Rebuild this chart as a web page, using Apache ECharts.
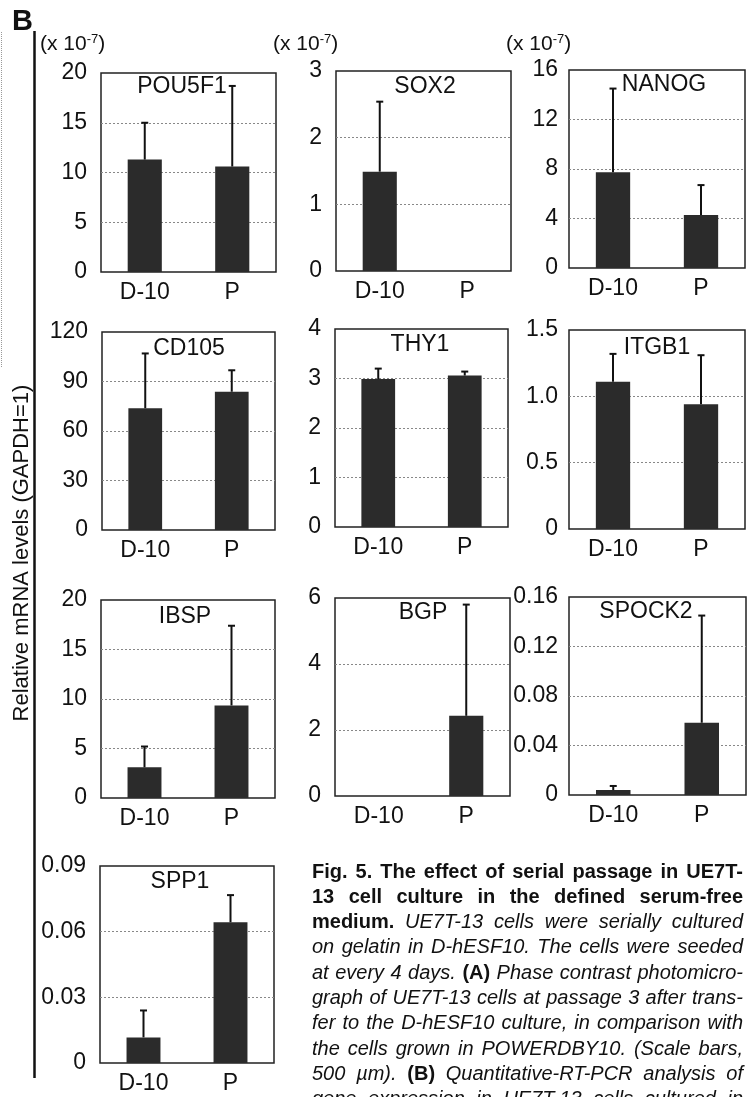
<!DOCTYPE html>
<html>
<head>
<meta charset="utf-8">
<script src="https://cdn.jsdelivr.net/npm/echarts@6/dist/echarts.min.js"></script>
<style>
html,body{margin:0;padding:0;background:#fff;}
#c{width:752px;height:1097px;}
</style>
</head>
<body>
<div id="c"></div>
<script>
// ---------- DATA ----------
const categories = ['D-10', 'P'];
const geneNames = ['POU5F1', 'SOX2', 'NANOG', 'CD105', 'THY1', 'ITGB1', 'IBSP', 'BGP', 'SPOCK2', 'SPP1'];

const pou5f1Mean = [11.3, 10.6];    const pou5f1Err = [3.7, 8.1];
const sox2Mean   = [1.49, 0];       const sox2Err   = [1.05, 0];
const nanogMean  = [7.73, 4.28];    const nanogErr  = [6.77, 2.42];
const cd105Mean  = [73.8, 83.8];    const cd105Err  = [33.2, 13.0];
const thy1Mean   = [2.99, 3.06];    const thy1Err   = [0.21, 0.08];
const itgb1Mean  = [1.11, 0.94];    const itgb1Err  = [0.21, 0.37];
const ibspMean   = [3.1, 9.35];     const ibspErr   = [2.1, 8.05];
const bgpMean    = [0, 2.43];       const bgpErr    = [0, 3.37];
const spock2Mean = [0.004, 0.0584]; const spock2Err = [0.0033, 0.0866];
const spp1Mean   = [0.0117, 0.0643];const spp1Err   = [0.0123, 0.0124];

const pou5f1Ticks = ['0', '5', '10', '15', '20'];
const sox2Ticks   = ['0', '1', '2', '3'];
const nanogTicks  = ['0', '4', '8', '12', '16'];
const cd105Ticks  = ['0', '30', '60', '90', '120'];
const thy1Ticks   = ['0', '1', '2', '3', '4'];
const itgb1Ticks  = ['0', '0.5', '1.0', '1.5'];
const ibspTicks   = ['0', '5', '10', '15', '20'];
const bgpTicks    = ['0', '2', '4', '6'];
const spock2Ticks = ['0', '0.04', '0.08', '0.12', '0.16'];
const spp1Ticks   = ['0', '0.03', '0.06', '0.09'];

const axisMax      = [20, 3, 16, 120, 4, 1.5, 20, 6, 0.16, 0.09];
const axisInterval = [5, 1, 4, 30, 1, 0.5, 5, 2, 0.04, 0.03];

const scaleNote = '(x 10{sup|-7})';
const yAxisTitle = 'Relative mRNA levels (GAPDH=1)';
const panelLetter = 'B';

const captionLines = [
  [['b', 'Fig. 5. The effect of serial passage in UE7T-']],
  [['b', '13 cell culture in the defined serum-free']],
  [['b', 'medium.'], ['i', 'UE7T-13 cells were serially cultured']],
  [['i', 'on gelatin in D-hESF10. The cells were seeded']],
  [['i', 'at every 4 days.'], ['b', '(A)'], ['i', 'Phase contrast photomicro-']],
  [['i', 'graph of UE7T-13 cells at passage 3 after trans-']],
  [['i', 'fer to the D-hESF10 culture, in comparison with']],
  [['i', 'the cells grown in POWERDBY10. (Scale bars,']],
  [['i', '500 \u00b5m).'], ['b', '(B)'], ['i', 'Quantitative-RT-PCR analysis of']],
  [['i', 'gene expression in UE7T-13 cells cultured in']]
];

const means = [pou5f1Mean, sox2Mean, nanogMean, cd105Mean, thy1Mean, itgb1Mean, ibspMean, bgpMean, spock2Mean, spp1Mean];
const errs  = [pou5f1Err, sox2Err, nanogErr, cd105Err, thy1Err, itgb1Err, ibspErr, bgpErr, spock2Err, spp1Err];
const ticks = [pou5f1Ticks, sox2Ticks, nanogTicks, cd105Ticks, thy1Ticks, itgb1Ticks, ibspTicks, bgpTicks, spock2Ticks, spp1Ticks];

// ---------- LAYOUT ----------
const FONT = '"Liberation Sans", Arial, Helvetica, sans-serif';
const gridBoxes = [
  [101, 73, 175, 199], [336, 71, 175, 200], [569, 70, 176, 198],
  [102, 332, 173, 198], [335, 329, 173, 198], [569, 330, 176, 199],
  [101, 600, 174, 198], [335, 598, 175, 198], [569, 597, 177, 198],
  [100, 866, 174, 197]
];
const titlePos = [
  [182, 87], [425, 87], [664, 85],
  [189, 349], [420, 345], [657, 348],
  [185, 617], [423, 613], [646, 612],
  [180, 882]
];
const notePos = [[40, 44], [273, 44], [506, 44]];

const chart = echarts.init(document.getElementById('c'), null, {renderer: 'canvas'});

const grids = [], xAxes = [], yAxes = [], series = [], graphics = [];

gridBoxes.forEach((b, i) => {
  grids.push({left: b[0], top: b[1], width: b[2], height: b[3], show: true,
    borderColor: '#222', borderWidth: 1.5, backgroundColor: 'transparent', containLabel: false});
  xAxes.push({type: 'category', gridIndex: i, data: categories,
    axisLine: {show: false}, axisTick: {show: false},
    axisLabel: {fontSize: 23, color: '#111', margin: 9, fontFamily: FONT}});
  const tl = ticks[i], iv = axisInterval[i];
  yAxes.push({type: 'value', gridIndex: i, min: 0, max: axisMax[i], interval: iv,
    axisLine: {show: false}, axisTick: {show: false},
    splitLine: {show: true, showMinLine: false, showMaxLine: false,
      lineStyle: {color: '#888', type: [2, 2], width: 1}},
    axisLabel: {fontSize: 23, color: '#111', margin: (i % 3 === 2) ? 11 : 14, fontFamily: FONT,
      formatter: v => tl[Math.round(v / iv)]}});
  series.push({type: 'bar', xAxisIndex: i, yAxisIndex: i, data: means[i], barWidth: '39%',
    itemStyle: {color: '#2b2b2b', borderWidth: 0}, z: 2, silent: true});
  series.push({type: 'custom', xAxisIndex: i, yAxisIndex: i, z: 3, silent: true,
    data: means[i].map((m, k) => [k, m, m + errs[i][k]]),
    renderItem: (params, api) => {
      const k = api.value(0), m = api.value(1), t = api.value(2);
      if (t - m <= 0) return null;
      const p0 = api.coord([k, m]);
      const p1 = api.coord([k, t]);
      return {type: 'group', children: [
        {type: 'line', shape: {x1: p0[0], y1: p0[1], x2: p1[0], y2: p1[1]}, style: {stroke: '#111', lineWidth: 2}},
        {type: 'line', shape: {x1: p1[0] - 3.5, y1: p1[1], x2: p1[0] + 3.5, y2: p1[1]}, style: {stroke: '#111', lineWidth: 2}}
      ]};
    }});
  graphics.push({type: 'text', x: titlePos[i][0], y: titlePos[i][1], z: 10,
    style: {text: geneNames[i], fontSize: 23, fontFamily: FONT, fill: '#111', align: 'center', verticalAlign: 'middle'}});
});

notePos.forEach(p => {
  graphics.push({type: 'text', x: p[0], y: p[1],
    style: {text: scaleNote, fontSize: 21, fontFamily: FONT, fill: '#111', align: 'left', verticalAlign: 'middle',
      rich: {sup: {fontSize: 13, fontFamily: FONT, fill: '#111', verticalAlign: 'top', padding: [0, 0, 10, 0]}}}});
});

// frame elements
graphics.push({type: 'text', x: 12, y: 22,
  style: {text: panelLetter, fontSize: 29, fontWeight: 'bold', fontFamily: FONT, fill: '#111', verticalAlign: 'middle'}});
graphics.push({type: 'line', shape: {x1: 34.5, y1: 31, x2: 34.5, y2: 1078}, style: {stroke: '#111', lineWidth: 2.5}});
graphics.push({type: 'line', shape: {x1: 1.5, y1: 32, x2: 1.5, y2: 368}, style: {stroke: '#999', lineWidth: 1, lineDash: [1, 1]}});
graphics.push({type: 'text', x: 22, y: 553, rotation: Math.PI / 2,
  style: {text: yAxisTitle, fontSize: 22, fontFamily: FONT, fill: '#111', align: 'center', verticalAlign: 'middle'}});

// caption, justified word by word
const ctx = document.createElement('canvas').getContext('2d');
const CAP_SIZE = 20, CAP_LEFT = 312, CAP_RIGHT = 743, CAP_TOP = 872, CAP_LEAD = 25.3;
function fontOf(st) {
  return (st === 'i' ? 'italic ' : '') + (st === 'b' ? 'bold ' : '') + CAP_SIZE + 'px ' + FONT;
}
captionLines.forEach((line, li) => {
  const words = [];
  line.forEach(seg => seg[1].split(' ').forEach(w => { if (w) words.push([seg[0], w]); }));
  let total = 0;
  words.forEach(w => { ctx.font = fontOf(w[0]); w.push(ctx.measureText(w[1]).width); total += w[2]; });
  const gap = words.length > 1 ? (CAP_RIGHT - CAP_LEFT - total) / (words.length - 1) : 0;
  let x = CAP_LEFT;
  const y = CAP_TOP + li * CAP_LEAD;
  words.forEach(w => {
    graphics.push({type: 'text', x: x, y: y,
      style: {text: w[1], fontSize: CAP_SIZE, fontFamily: FONT,
        fontStyle: w[0] === 'i' ? 'italic' : 'normal', fontWeight: w[0] === 'b' ? 'bold' : 'normal',
        fill: '#111', align: 'left', verticalAlign: 'middle'}});
    x += w[2] + gap;
  });
});

chart.setOption({
  animation: false,
  backgroundColor: '#fff',
  grid: grids, xAxis: xAxes, yAxis: yAxes, series: series,
  graphic: {elements: graphics}
});
</script>
</body>
</html>
